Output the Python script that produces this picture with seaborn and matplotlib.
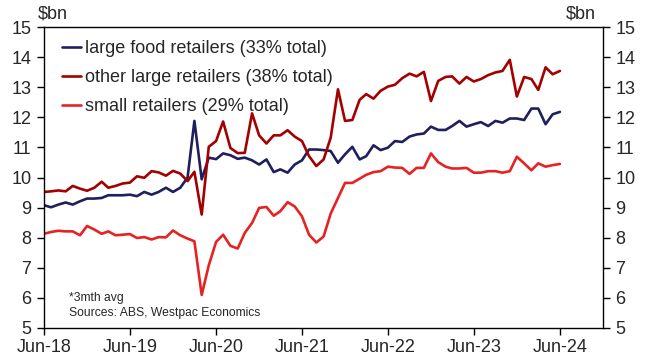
import numpy as np
import pandas as pd
import matplotlib
matplotlib.use("Agg")
import matplotlib.pyplot as plt
import matplotlib.dates as mdates
import seaborn as sns

# Monthly retail turnover, $bn (3-month average), Jun-18 to Jun-24
start_month = "2018-06-01"
n_months = 73

large_food = [9.08, 9.01, 9.10, 9.17, 9.10, 9.21, 9.30, 9.30, 9.32, 9.41,
              9.41, 9.41, 9.43, 9.38, 9.52, 9.43, 9.52, 9.66, 9.52, 9.66,
              10.00, 11.88, 9.94, 10.66, 10.61, 10.80, 10.74, 10.62, 10.66, 10.57,
              10.43, 10.60, 10.18, 10.27, 10.16, 10.43, 10.57, 10.93, 10.93, 10.91,
              10.88, 10.49, 10.77, 11.02, 10.60, 10.71, 11.07, 10.91, 10.99, 11.21,
              11.18, 11.36, 11.43, 11.46, 11.69, 11.58, 11.58, 11.71, 11.88, 11.69,
              11.77, 11.84, 11.71, 11.88, 11.82, 11.96, 11.96, 11.91, 12.29, 12.29,
              11.77, 12.10, 12.18]

other_large = [9.52, 9.54, 9.57, 9.54, 9.72, 9.63, 9.56, 9.66, 9.86, 9.66,
               9.72, 9.80, 9.83, 10.04, 9.99, 10.21, 10.17, 10.06, 10.22, 10.13,
               9.88, 10.19, 8.77, 11.02, 11.21, 11.86, 10.98, 10.81, 10.82, 12.13,
               11.40, 11.13, 11.40, 11.40, 11.57, 11.36, 11.21, 10.71, 10.38, 10.60,
               11.32, 12.93, 11.88, 11.91, 12.58, 12.77, 12.62, 12.88, 13.02, 13.08,
               13.30, 13.45, 13.36, 13.51, 12.54, 13.21, 13.34, 13.36, 13.12, 13.34,
               13.19, 13.27, 13.40, 13.49, 13.54, 13.91, 12.69, 13.34, 13.27, 12.91,
               13.66, 13.43, 13.54]

small = [8.13, 8.19, 8.23, 8.21, 8.21, 8.08, 8.39, 8.27, 8.13, 8.21,
         8.08, 8.10, 8.12, 7.99, 8.02, 7.94, 8.02, 8.01, 8.24, 8.08,
         7.97, 7.88, 6.10, 7.08, 7.86, 8.10, 7.73, 7.64, 8.16, 8.49,
         8.99, 9.02, 8.73, 8.88, 9.18, 9.04, 8.71, 8.10, 7.84, 8.04,
         8.80, 9.32, 9.82, 9.82, 9.96, 10.09, 10.18, 10.21, 10.36, 10.33,
         10.32, 10.12, 10.32, 10.32, 10.80, 10.51, 10.36, 10.30, 10.30, 10.32,
         10.16, 10.16, 10.21, 10.21, 10.16, 10.21, 10.69, 10.47, 10.24, 10.47,
         10.36, 10.41, 10.45]

series_names = ["large food retailers (33% total)",
                "other large retailers (38% total)",
                "small retailers (29% total)"]
series_colors = ["#1f1f5e", "#a40000", "#e62222"]

y_ticks = list(range(5, 16))
x_tick_years = list(range(2018, 2025))

dates = pd.date_range(start_month, periods=n_months, freq="MS")
df = pd.DataFrame({"date": dates,
                   series_names[0]: large_food,
                   series_names[1]: other_large,
                   series_names[2]: small})
long = df.melt(id_vars="date", var_name="series", value_name="value")

sns.set_theme(style="white")
plt.rcParams["font.family"] = ["Liberation Sans", "DejaVu Sans"]

fig = plt.figure(figsize=(6.51, 3.58), dpi=100)
ax = fig.add_axes([44 / 651, 1 - 328 / 358, (603 - 44) / 651, (328 - 27) / 358])

sns.lineplot(data=long, x="date", y="value", hue="series",
             hue_order=series_names, palette=series_colors,
             linewidth=1.9, ax=ax, legend=False)

ax.set_ylim(5, 15)
ax.set_xlim(pd.Timestamp("2018-06-01"), pd.Timestamp("2024-12-01"))
ax.set_yticks(y_ticks)
ax.set_xticks([pd.Timestamp(f"{y}-06-01") for y in x_tick_years])
ax.xaxis.set_major_formatter(mdates.DateFormatter("%b-%y"))
ax.set_xlabel("")
ax.set_ylabel("")

for side in ["left", "right", "top", "bottom"]:
    ax.spines[side].set_visible(True)
    ax.spines[side].set_color("black")
    ax.spines[side].set_linewidth(1.0)

ax.tick_params(axis="y", which="both", left=True, right=True,
               labelleft=True, labelright=True, direction="out",
               length=5, width=1, color="black", labelsize=13, pad=4)
ax.tick_params(axis="x", bottom=True, direction="out", length=5, width=1,
               color="black", labelsize=13, pad=3)

handles = [plt.Line2D([], [], color=c, lw=1.9) for c in series_colors]
leg = ax.legend(handles, series_names, loc="upper left",
                bbox_to_anchor=(0.02, 0.98), frameon=False, fontsize=13,
                handlelength=1.05, handletextpad=0.2, labelspacing=0.66,
                borderaxespad=0.0)

fig.text(38 / 651, 1 - 14 / 358, "$bn", fontsize=13, va="center", ha="left")
fig.text(566 / 651, 1 - 14 / 358, "$bn", fontsize=13, va="center", ha="left")

ax.text(69 / 651, 1 - 298 / 358, "*3mth avg", fontsize=8.7,
        transform=fig.transFigure, va="center", ha="left")
ax.text(69 / 651, 1 - 313 / 358, "Sources: ABS, Westpac Economics", fontsize=8.7,
        transform=fig.transFigure, va="center", ha="left")

fig.savefig("out.png", dpi=100)
